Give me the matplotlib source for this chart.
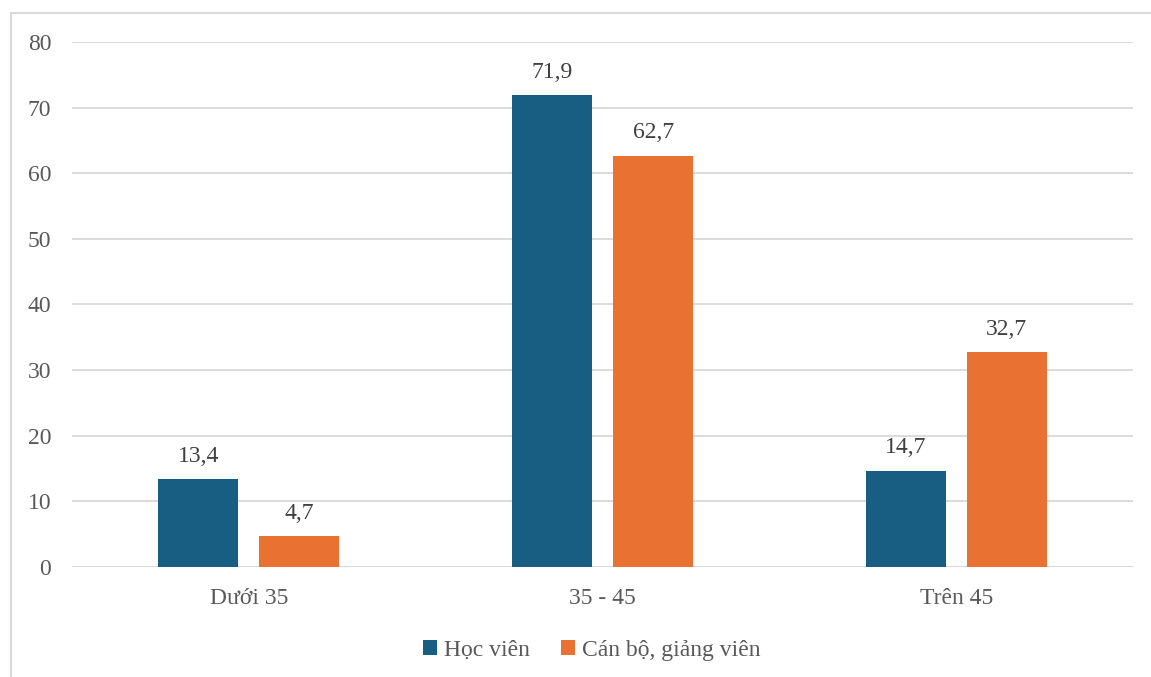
import matplotlib.pyplot as plt
from matplotlib.patches import Rectangle
import numpy as np

# Dữ liệu
nhom_tuoi = ['Dưới 35', '35 - 45', 'Trên 45']
hoc_vien = [13.4, 71.9, 14.7]
can_bo = [4.7, 62.7, 32.7]
ten_chuoi = ['Học viên', 'Cán bộ, giảng viên']
mau = ['#175E82', '#E97132']
chu = '#595959'

plt.rcParams['font.family'] = ['Liberation Serif', 'DejaVu Serif']

fig = plt.figure(figsize=(11.51, 6.77), dpi=100)
ax = fig.add_axes([0.0626, 0.1625, 0.9218, 0.7755])

x = np.arange(len(nhom_tuoi))
w = 0.226
d = 0.143
b1 = ax.bar(x - d, hoc_vien, w, color=mau[0], label=ten_chuoi[0], zorder=3)
b2 = ax.bar(x + d, can_bo, w, color=mau[1], label=ten_chuoi[1], zorder=3)

# Nhãn giá trị, dấu phẩy thập phân
for bars, vals in ((b1, hoc_vien), (b2, can_bo)):
    for r, v in zip(bars, vals):
        ax.annotate(f'{v:.1f}'.replace('.', ','),
                    (r.get_x() + r.get_width() / 2, v),
                    xytext=(0, 9), textcoords='offset points',
                    ha='center', va='bottom', fontsize=17, color='#404040')

ax.set_xlim(-0.5, 2.5)
ax.set_ylim(0, 80)
ax.set_yticks(range(0, 81, 10))
ax.set_xticks(x)
ax.set_xticklabels(nhom_tuoi)
ax.yaxis.grid(True, color='#D9D9D9', linewidth=1.3, zorder=0)
ax.axhline(0, color='#D9D9D9', linewidth=1.3, zorder=2)
for s in ax.spines.values():
    s.set_visible(False)
ax.tick_params(length=0, labelsize=17, labelcolor=chu)
ax.tick_params(axis='y', pad=15)
ax.tick_params(axis='x', pad=15)

leg = fig.legend(loc='center', bbox_to_anchor=(0.514, 0.039), ncol=2, frameon=False,
                 fontsize=17, labelcolor=chu, handlelength=0.6, handleheight=0.6,
                 handletextpad=0.3, columnspacing=1.3)

# Khung viền nhạt quanh biểu đồ
fig.patches.append(Rectangle((11 / 1151, -0.05), 1.1, 1.05 - 13 / 677,
                             transform=fig.transFigure, fill=False,
                             edgecolor='#D9D9D9', linewidth=1.5))

fig.savefig('out.png', dpi=100)
